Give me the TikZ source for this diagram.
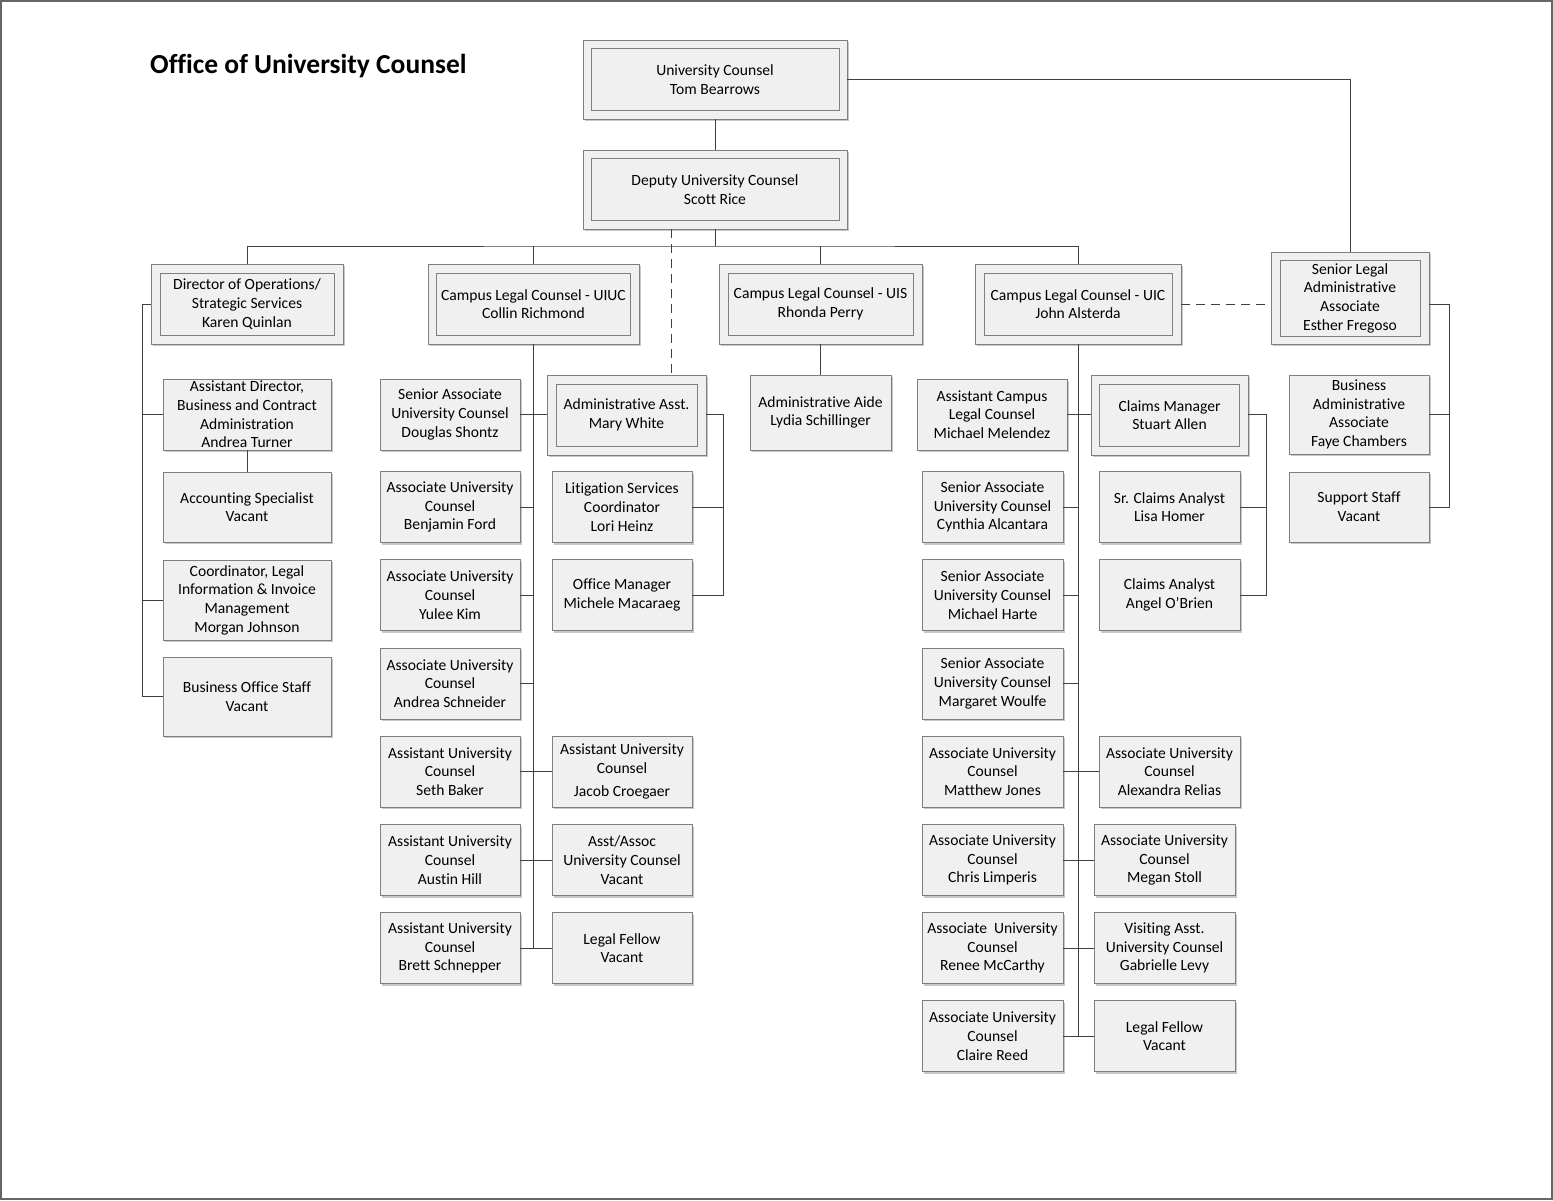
\documentclass[tikz,border=0pt]{standalone}
\usepackage{fontspec}
\setmainfont{Carlito}[Ligatures=NoCommon]
\usetikzlibrary{shadows}
\definecolor{boxfill}{HTML}{F0F0F0}
\definecolor{boxline}{HTML}{7F7F7F}
\definecolor{connc}{HTML}{404040}
\begin{document}
\begin{tikzpicture}[x=1pt,y=-1pt,
  txt/.style={font=\fontsize{15.6}{18.7}\selectfont},
  box/.style={draw=boxline, fill=boxfill, line width=0.9pt, align=center, inner xsep=1pt, inner ysep=0pt, txt,
     drop shadow={shadow xshift=2pt, shadow yshift=-2pt, fill=black, opacity=0.22}},
  inbox/.style={draw=boxline, fill=boxfill, line width=0.9pt, align=center, inner xsep=1pt, inner ysep=0pt, txt},
  sbox/.style={box, minimum width=140, minimum height=71},
  conn/.style={draw=connc, line width=1pt},
  dsh/.style={conn, dash pattern=on 9pt off 6pt}]
\fill[white] (0,0) rectangle (1553,1200);
\useasboundingbox (0,0) rectangle (1553,1200);
\draw[draw=gray!80!black, line width=2pt] (1,1) rectangle (1552,1199);

\node[anchor=west, inner sep=0pt, font=\fontsize{27.5}{32}\selectfont\bfseries] (title) at (150,66) {Office of University Counsel};

% top
\node[box, minimum width=264, minimum height=79] (uc) at (715,79.5) {};
\node[inbox, minimum width=248, minimum height=62] (uci) at (uc) {University Counsel\\Tom Bearrows};
\node[box, minimum width=264, minimum height=79] (dep) at (715,189.5) {};
\node[inbox, minimum width=248, minimum height=62] (depi) at (dep) {Deputy University Counsel\\Scott Rice};

% level 2
\node[box, minimum width=192, minimum height=80] (dir) at (247,304) {};
\node[inbox, minimum width=174, minimum height=62] (diri) at (dir) {Director of Operations/\\Strategic Services\\Karen Quinlan};
\node[box, minimum width=211, minimum height=80] (uiuc) at (533.5,304) {};
\node[inbox, minimum width=194, minimum height=62] (uiuci) at (uiuc) {Campus Legal Counsel - UIUC\\Collin Richmond};
\node[box, minimum width=203, minimum height=80] (uis) at (820.5,304) {};
\node[inbox, minimum width=185, minimum height=62] (uisi) at (uis) {Campus Legal Counsel - UIS\\Rhonda Perry};
\node[box, minimum width=206, minimum height=80] (uic) at (1078,304) {};
\node[inbox, minimum width=188, minimum height=62] (uici) at (uic) {Campus Legal Counsel - UIC\\John Alsterda};
\node[box, minimum width=158, minimum height=92] (sla) at (1350,298) {};
\node[inbox, minimum width=140, minimum height=76] (slai) at (sla) {Senior Legal\\Administrative\\Associate\\Esther Fregoso};

% right admin
\node[box, minimum width=140, minimum height=79] (baa) at (1359,414.5) {Business\\Administrative\\Associate\\Faye Chambers};
\node[box, minimum width=140, minimum height=70] (sup) at (1359,507) {Support Staff\\Vacant};

% left column
\node[box, minimum width=168, minimum height=71] (ad) at (247,414.5) {Assistant Director,\\Business and Contract\\Administration\\Andrea Turner};
\node[box, minimum width=168, minimum height=70] (acc) at (247,507) {Accounting Specialist\\Vacant};
\node[box, minimum width=168, minimum height=80] (coord) at (247,600) {Coordinator, Legal\\Information \& Invoice\\Management\\Morgan Johnson};
\node[box, minimum width=168, minimum height=79] (bos) at (247,696.5) {Business Office Staff\\Vacant};

% UIUC column
\node[sbox] (u1) at (450,414.5) {Senior Associate\\University Counsel\\Douglas Shontz};
\node[sbox] (u2) at (450,507) {Associate University\\Counsel\\Benjamin Ford};
\node[sbox] (u3) at (450,595) {Associate University\\Counsel\\Yulee Kim};
\node[sbox] (u4) at (450,683.5) {Associate University\\Counsel\\Andrea Schneider};
\node[sbox] (u5) at (450,771.5) {Assistant University\\Counsel\\Seth Baker};
\node[sbox] (u6) at (450,860) {Assistant University\\Counsel\\Austin Hill};
\node[sbox] (u7) at (450,948) {Assistant University\\Counsel\\Brett Schnepper};

\node[box, minimum width=159, minimum height=80] (admin) at (626.5,415) {};
\node[inbox, minimum width=141, minimum height=62] (admini) at (admin) {Administrative Asst.\\Mary White};
\node[sbox] (lit) at (622,507) {Litigation Services\\Coordinator\\Lori Heinz};
\node[sbox] (om) at (622,595) {Office Manager\\Michele Macaraeg};
\node[sbox] (jc) at (622,771.5) {Assistant University\\Counsel\\[5pt]Jacob Croegaer};
\node[sbox] (aa) at (622,860) {Asst/Assoc\\University Counsel\\Vacant};
\node[sbox] (lf) at (622,948) {Legal Fellow\\Vacant};

% UIS
\node[box, minimum width=141, minimum height=75] (aide) at (820.5,412.5) {Administrative Aide\\Lydia Schillinger};

% UIC column
\node[box, minimum width=150, minimum height=71] (c1) at (992,414.5) {Assistant Campus\\Legal Counsel\\Michael Melendez};
\node[sbox, minimum width=141] (c2) at (992.5,507) {Senior Associate\\University Counsel\\Cynthia Alcantara};
\node[sbox, minimum width=141] (c3) at (992.5,595) {Senior Associate\\University Counsel\\Michael Harte};
\node[sbox, minimum width=141] (c4) at (992.5,683.5) {Senior Associate\\University Counsel\\Margaret Woulfe};
\node[sbox, minimum width=141] (c5) at (992.5,771.5) {Associate University\\Counsel\\Matthew Jones};
\node[sbox, minimum width=141] (c6) at (992.5,860) {Associate University\\Counsel\\Chris Limperis};
\node[sbox, minimum width=141] (c7) at (992.5,948) {Associate\ \ University\\Counsel\\Renee McCarthy};
\node[sbox, minimum width=141] (c8) at (992.5,1036) {Associate University\\Counsel\\Claire Reed};

\node[box, minimum width=157, minimum height=80] (cm) at (1169.5,415) {};
\node[inbox, minimum width=140, minimum height=62] (cmi) at (cm) {Claims Manager\\Stuart Allen};
\node[sbox, minimum width=141] (sca) at (1169.5,507) {Sr. Claims Analyst\\Lisa Homer};
\node[sbox, minimum width=141] (ca) at (1169.5,595) {Claims Analyst\\Angel O’Brien};
\node[sbox, minimum width=141] (ar) at (1169.5,771.5) {Associate University\\Counsel\\Alexandra Relias};
\node[sbox, minimum width=141] (ms) at (1164.5,860) {Associate University\\Counsel\\Megan Stoll};
\node[sbox, minimum width=141] (gl) at (1164.5,948) {Visiting Asst.\\University Counsel\\Gabrielle Levy};
\node[sbox, minimum width=141] (lf2) at (1164.5,1036) {Legal Fellow\\Vacant};

% connectors: top
\draw[conn] (uc) -- (dep);
\draw[conn] (uc.east) -| (sla.north);
\coordinate (bus) at (715,246);
\draw[conn] (dep.south) -- (bus);
\draw[conn] (dir.north) |- (bus) -| (uic.north);
\draw[conn] (uiuc.north) -- (uiuc.north |- bus);
\draw[conn] (uis.north) -- (uis.north |- bus);
\coordinate (dtop) at (671,229);
\draw[dsh] (dtop) -- (dtop |- admin.north);
\draw[dsh] (uic.east) -- (uic.east -| sla.west);
\coordinate (slx) at (1449,304);
\draw[conn] (sla.east |- slx) -- (slx) |- (sup.east);
\draw[conn] (baa.east) -- (baa.east -| slx);

% left column
\coordinate (dxl) at (142,304);
\draw[conn] (dir.west) -- (dxl) |- (bos.west);
\draw[conn] (ad.west) -- (ad.west -| dxl);
\draw[conn] (coord.west) -- (coord.west -| dxl);
\draw[conn] (ad.south) -- (acc.north);

% UIUC
\draw[conn] (uiuc.south) -- (uiuc.south |- u7.east);
\draw[conn] (u1.east) -- (u1.east -| admin.west);
\foreach \n in {u2,u3,u4} \draw[conn] (\n.east) -- (\n.east -| uiuc.south);
\draw[conn] (u5.east) -- (jc.west);
\draw[conn] (u6.east) -- (aa.west);
\draw[conn] (u7.east) -- (lf.west);
\coordinate (axr) at (723,414);
\draw[conn] (admin.east |- axr) -- (axr) |- (om.east);
\draw[conn] (lit.east) -- (lit.east -| axr);

% UIS
\draw[conn] (uis.south) -- (aide.north);

% UIC
\draw[conn] (uic.south) -- (uic.south |- c8.east);
\draw[conn] (c1.east) -- (c1.east -| cm.west);
\foreach \n in {c2,c3,c4} \draw[conn] (\n.east) -- (\n.east -| uic.south);
\draw[conn] (c5.east) -- (ar.west);
\draw[conn] (c6.east) -- (ms.west);
\draw[conn] (c7.east) -- (gl.west);
\draw[conn] (c8.east) -- (lf2.west);
\coordinate (cxr) at (1266,414);
\draw[conn] (cm.east |- cxr) -- (cxr) |- (ca.east);
\draw[conn] (sca.east) -- (sca.east -| cxr);
\end{tikzpicture}
\end{document}
